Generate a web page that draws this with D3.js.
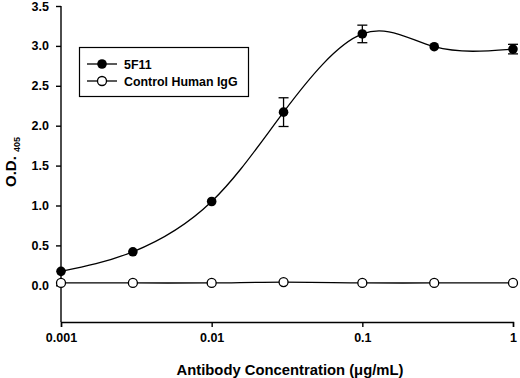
<!DOCTYPE html>
<html>
<head>
<meta charset="utf-8">
<script src="https://cdn.jsdelivr.net/npm/d3@7"></script>
<style>
  body { margin: 0; background: #fff; }
  text { font-family: "Liberation Sans", Arial, sans-serif; font-weight: bold; fill: #000; }
</style>
</head>
<body>
<div id="chart"></div>
<script>
const width = 520
const height = 378

// datos
const conc = [0.001, 0.003, 0.01, 0.03, 0.1, 0.3, 1]
const od5F11 = [0.175, 0.42, 1.05, 2.17, 3.15, 2.99, 2.96]
const err5F11 = [0.02, 0.03, 0.03, 0.18, 0.11, 0.03, 0.06]
const odControl = [0.03, 0.03, 0.03, 0.04, 0.03, 0.03, 0.03]
const xTicks = [0.001, 0.01, 0.1, 1]
const yTicks = [0, 0.5, 1, 1.5, 2, 2.5, 3, 3.5]
const seriesNames = ["5F11", "Control Human IgG"]

const svg = d3.select("#chart")
  .append("svg")
  .attr("width", width)
  .attr("height", height)

// Escalas
const x = d3.scaleLog().domain([0.001, 1]).range([61, 513])
const y = d3.scaleLinear().domain([-0.46, 3.5]).range([322, 6])

// Ejes
const xAxis = d3.axisBottom(x).tickValues(xTicks).tickFormat(d => String(d)).tickSizeOuter(0).tickSize(5).tickPadding(6)
const yAxis = d3.axisLeft(y).tickValues(yTicks).tickFormat(d3.format(".1f")).tickSizeOuter(0).tickSize(5).tickPadding(7)

const xAxisGroup = svg.append("g").attr("transform", `translate(0, ${y(-0.46)})`).call(xAxis)
const yAxisGroup = svg.append("g").attr("transform", `translate(${x(0.001)}, 0)`).call(yAxis)

for (const g of [xAxisGroup, yAxisGroup]) {
  g.selectAll("path.domain").attr("stroke", "#000").attr("stroke-width", 1.4)
  g.selectAll(".tick line").attr("stroke", "#000").attr("stroke-width", 1.4)
  g.selectAll(".tick text").attr("font-size", 12.5).attr("font-family", null).attr("font-weight", "bold")
}
// el eje y solo llega hasta abajo del todo
yAxisGroup.select("path.domain").attr("d", `M0,${y(3.5)}V${y(-0.46)}`)

// Títulos
svg.append("text")
  .attr("x", 290).attr("y", 375)
  .attr("text-anchor", "middle")
  .attr("font-size", 14.8)
  .text("Antibody Concentration (μg/mL)")

const yTitle = svg.append("text")
  .attr("transform", "translate(15.5, 162) rotate(-90)")
  .attr("text-anchor", "middle")
  .attr("font-size", 15)
yTitle.append("tspan").text("O.D. ")
yTitle.append("tspan").attr("font-size", 9).attr("dy", 4).text("405")

// Curvas
const lineGen = d3.line()
  .x(d => x(d[0]))
  .y(d => y(d[1]))
  .curve(d3.curveNatural)

const data5F11 = conc.map((c, i) => [c, od5F11[i], err5F11[i]])
const dataCtrl = conc.map((c, i) => [c, odControl[i]])

const elementGroup = svg.append("g")

elementGroup.append("path")
  .attr("d", lineGen(dataCtrl))
  .attr("fill", "none").attr("stroke", "#000").attr("stroke-width", 1.3)

elementGroup.append("path")
  .attr("d", lineGen(data5F11))
  .attr("fill", "none").attr("stroke", "#000").attr("stroke-width", 1.3)

// Barras de error
const errG = elementGroup.selectAll("g.err").data(data5F11.filter(d => d[2] > 0.04)).enter().append("g")
errG.append("line")
  .attr("x1", d => x(d[0])).attr("x2", d => x(d[0]))
  .attr("y1", d => y(d[1] + d[2])).attr("y2", d => y(d[1] - d[2]))
  .attr("stroke", "#000").attr("stroke-width", 1.3)
for (const s of [1, -1]) {
  errG.append("line")
    .attr("x1", d => x(d[0]) - 5).attr("x2", d => x(d[0]) + 5)
    .attr("y1", d => y(d[1] + s * d[2])).attr("y2", d => y(d[1] + s * d[2]))
    .attr("stroke", "#000").attr("stroke-width", 1.3)
}

// Marcadores
elementGroup.selectAll("circle.ctrl").data(dataCtrl).enter()
  .append("circle")
  .attr("cx", d => x(d[0])).attr("cy", d => y(d[1]))
  .attr("r", 4.5)
  .attr("fill", "#fff").attr("stroke", "#000").attr("stroke-width", 1.3)

elementGroup.selectAll("circle.mab").data(data5F11).enter()
  .append("circle")
  .attr("cx", d => x(d[0])).attr("cy", d => y(d[1]))
  .attr("r", 4.8)
  .attr("fill", "#000")

// Leyenda
const legend = svg.append("g")
legend.append("rect")
  .attr("x", 79.5).attr("y", 47.5).attr("width", 169).attr("height", 49)
  .attr("fill", "#fff").attr("stroke", "#000").attr("stroke-width", 1.2)

seriesNames.forEach((name, i) => {
  const ly = 64 + i * 17
  legend.append("line").attr("x1", 87).attr("x2", 117).attr("y1", ly).attr("y2", ly)
    .attr("stroke", "#000").attr("stroke-width", 1.3)
  legend.append("circle").attr("cx", 102).attr("cy", ly).attr("r", i === 0 ? 4.8 : 4.5)
    .attr("fill", i === 0 ? "#000" : "#fff").attr("stroke", "#000").attr("stroke-width", i === 0 ? 0 : 1.3)
  legend.append("text").attr("x", 124).attr("y", ly + 4.5).attr("font-size", 12.4).text(name)
})
</script>
</body>
</html>
